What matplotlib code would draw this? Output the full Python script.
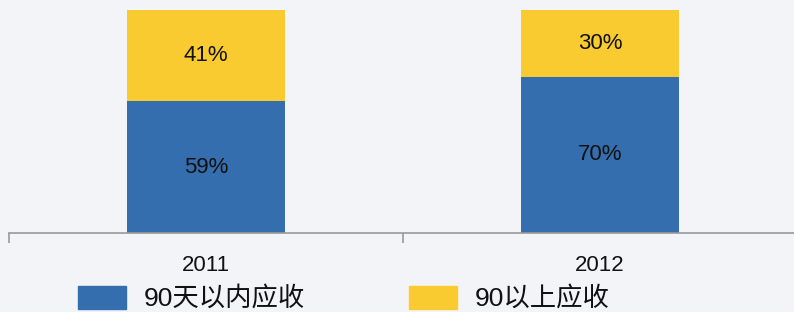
import matplotlib.pyplot as plt
from matplotlib.patches import Rectangle

plt.rcParams["font.family"] = ["Liberation Sans", "Noto Sans CJK SC", "DejaVu Sans"]

years = ["2011", "2012"]
within_90 = [59, 70]
over_90 = [41, 30]
series_names = ["90天以内应收", "90以上应收"]
colors = ["#356EAE", "#FACB31"]

W, H = 794, 312
fig = plt.figure(figsize=(W / 100, H / 100), dpi=100)
fig.patch.set_facecolor("#f3f4f8")

ax = fig.add_axes([9 / W, 1 - 233 / H, 788 / W, 223 / H])
ax.set_facecolor("none")

x = list(range(len(years)))
b1 = ax.bar(x, within_90, width=0.40, color=colors[0])
b2 = ax.bar(x, over_90, width=0.40, bottom=within_90, color=colors[1])
for bars in (b1, b2):
    ax.bar_label(bars, labels=[f"{v}%" for v in bars.datavalues],
                 label_type="center", fontsize=16, color="#111111")

ax.set_xlim(-0.5, len(years) - 0.5)
ax.set_ylim(0, 100)
ax.set_yticks([])
for s in ["top", "right", "left"]:
    ax.spines[s].set_visible(False)
ax.spines["bottom"].set_color("#999999")
ax.spines["bottom"].set_linewidth(1.2)

ax.set_xticks(x)
ax.set_xticklabels(years, fontsize=16, color="#111111")
ax.tick_params(axis="x", which="major", length=0, pad=16)
ax.set_xticks([-0.5, 0.5, 1.5], minor=True)
ax.tick_params(axis="x", which="minor", length=7, width=1.2, color="#999999",
               direction="out")

# legend drawn below the axis
legend_x = [78, 409]
for lx, name, c in zip(legend_x, series_names, colors):
    fig.patches.append(Rectangle((lx / W, 1 - 309 / H), 48 / W, 23 / H,
                                 transform=fig.transFigure, color=c))
    fig.text((lx + 66) / W, 1 - 298 / H, name, fontsize=19, va="center",
             ha="left", color="#111111")

plt.savefig("out.png", dpi=100, facecolor=fig.get_facecolor())
